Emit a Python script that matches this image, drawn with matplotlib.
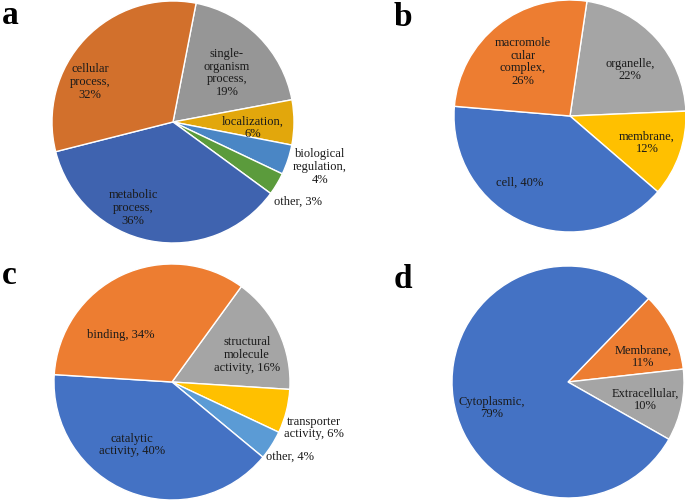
import matplotlib
matplotlib.use("Agg")
import matplotlib.pyplot as plt

W, H = 685, 502

# ---- data ----
a_labels = ["single-\norganism\nprocess,", "localization,", "biological\nregulation,", "other,", "metabolic\nprocess,", "cellular\nprocess,"]
a_values = [19, 6, 4, 3, 36, 32]
a_colors = ["#969696", "#E2A70C", "#4A86C5", "#5B9B3C", "#3F63AF", "#D2702C"]

b_labels = ["organelle,", "membrane,", "cell, ", "macromole\ncular\ncomplex,"]
b_values = [22, 12, 40, 26]
b_colors = ["#A5A5A5", "#FFC000", "#4472C4", "#ED7D31"]

c_labels = ["structural\nmolecule\nactivity, ", "transporter\nactivity, ", "other, ", "catalytic\nactivity, ", "binding, "]
c_values = [16, 6, 4, 40, 34]
c_colors = ["#A5A5A5", "#FFC000", "#5B9BD5", "#4472C4", "#ED7D31"]

d_labels = ["Membrane,", "Extracellular,", "Cytoplasmic,"]
d_values = [11, 10, 79]
d_colors = ["#ED7D31", "#A5A5A5", "#4472C4"]

# ---- layout (pixel coords, y from top) ----
panels = [
    dict(letter="a", lx=2, ly=24, cx=173, cy=123, r=121, start=79,
         labels=a_labels, values=a_values, colors=a_colors,
         pos=[(227, 73), (253, 128), (320, 167), (298, 202), (133, 208), (90, 82)],
         sep=["\n", "\n", "\n", " ", "\n", "\n"]),
    dict(letter="b", lx=394, ly=26, cx=570, cy=117, r=116, start=81.6,
         labels=b_labels, values=b_values, colors=b_colors,
         pos=[(630, 70), (647, 143), (520, 183), (523, 62)],
         sep=["\n", "\n", "", "\n"]),
    dict(letter="c", lx=2, ly=284, cx=172, cy=383, r=118, start=54,
         labels=c_labels, values=c_values, colors=c_colors,
         pos=[(247, 355), (314, 428), (290, 457), (132, 445), (121, 335)],
         sep=["", "", "", "", ""]),
    dict(letter="d", lx=394, ly=288, cx=568, cy=383, r=116, start=46,
         labels=d_labels, values=d_values, colors=d_colors,
         pos=[(643, 357), (645, 400), (492, 408)],
         sep=["\n", "\n", "\n"]),
]

fig = plt.figure(figsize=(W / 100, H / 100), dpi=100)
ax = fig.add_axes([0, 0, 1, 1])

serif = ["Liberation Serif", "DejaVu Serif"]

for p in panels:
    ax.pie(p["values"], colors=p["colors"], startangle=p["start"], counterclock=False,
           center=(p["cx"], H - p["cy"]), radius=p["r"], frame=True,
           wedgeprops=dict(edgecolor="white", linewidth=1.0))
    for lab, v, (x, y), s in zip(p["labels"], p["values"], p["pos"], p["sep"]):
        ax.text(x, H - y, f"{lab}{s}{v}%", ha="center", va="center",
                fontsize=9, family=serif, color="#1a1a1a", linespacing=1.1)
    ax.text(p["lx"], H - p["ly"], p["letter"], ha="left", va="baseline",
            fontsize=24, fontweight="bold", family=serif, color="black")

ax.set_xlim(0, W)
ax.set_ylim(0, H)
ax.set_aspect("equal")
ax.axis("off")
fig.savefig("out.png", dpi=100)
